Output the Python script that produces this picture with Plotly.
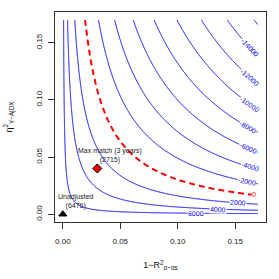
import numpy as np
import plotly.graph_objects as go

# ---- data ----
benchmark_labels = ["Unadjusted", "Max match (3 years)"]
benchmark_x = [0.0, 0.03]
benchmark_y = [0.0, 0.04]
benchmark_estimates = [6476, 2715]
benchmark_symbols = ["triangle-up", "diamond"]
benchmark_fill = ["black", "#ee0000"]

negative_levels = [-16000, -14000, -12000, -10000, -8000, -6000, -4000, -2000]
positive_levels = [2000, 4000, 6000]
threshold_level = 0

# contour surface: estimate(x, y) = center - scale * sqrt(y * x / (1 - x))
contour_center = 7350
sensitivity_scale = 126800
grid_max = 0.17

x_ticks = [0.00, 0.05, 0.10, 0.15]
y_ticks = [0.00, 0.05, 0.10, 0.15]

# where along x each contour label sits (style)
label_x_pos = {-14000: 0.1627, -12000: 0.1627, -10000: 0.1627, -8000: 0.1615,
               -6000: 0.1615, -4000: 0.1625, -2000: 0.160, 0: 0.1665,
               2000: 0.1525, 4000: 0.135, 6000: 0.1163}

# ---- build ----
pad = 0.04 * grid_max
x_range = [-pad, grid_max + pad]
y_range = [-pad, grid_max + pad]
W, H = 279, 279
ml, mr, mt, mb = 55, 13, 12, 57
pw, ph = W - ml - mr, H - mt - mb
xpx = pw / (x_range[1] - x_range[0])
ypx = ph / (y_range[1] - y_range[0])

xs = np.linspace(0, grid_max, 401)
ys = np.linspace(0, grid_max, 401)
X, Y = np.meshgrid(xs, ys)
Z = contour_center - sensitivity_scale * np.sqrt(Y * X / (1 - X))

fig = go.Figure()
blue_scale = [[0, "blue"], [1, "blue"]]
for lv in (negative_levels, positive_levels):
    fig.add_trace(go.Contour(
        x=xs, y=ys, z=Z,
        contours=dict(coloring="lines", start=min(lv), end=max(lv), size=2000,
                      showlabels=False),
        colorscale=blue_scale, showscale=False, line=dict(width=1),
        hoverinfo="skip"))
fig.add_trace(go.Contour(
    x=xs, y=ys, z=Z,
    contours=dict(coloring="none", start=threshold_level, end=threshold_level, size=1,
                  showlabels=False),
    line=dict(color="red", width=2, dash="6px,4px"), showscale=False,
    hoverinfo="skip"))

# contour labels (positions computed from the surface)
for lev, lx in label_x_pos.items():
    k2 = ((contour_center - lev) / sensitivity_scale) ** 2
    ly = k2 * (1 - lx) / lx
    if ly > grid_max:
        continue
    slope = -k2 / lx ** 2
    ang = float(np.degrees(np.arctan(-slope * ypx / xpx)))
    col = "red" if lev == threshold_level else "blue"
    fig.add_annotation(x=lx, y=ly, text=str(lev), showarrow=False,
                       textangle=ang, bgcolor="white", borderpad=0,
                       font=dict(size=7, color=col, family="Liberation Sans, Arial"))

# benchmark points
for i in range(len(benchmark_labels)):
    fig.add_trace(go.Scatter(
        x=[benchmark_x[i]], y=[benchmark_y[i]], mode="markers",
        marker=dict(symbol=benchmark_symbols[i], size=7, color=benchmark_fill[i],
                    line=dict(color="black", width=1)),
        showlegend=False, hoverinfo="skip"))
    bump = grid_max / 15
    fig.add_annotation(x=benchmark_x[i] + bump, y=benchmark_y[i] + bump,
                       text=f"{benchmark_labels[i]}<br>({benchmark_estimates[i]})",
                       showarrow=False,
                       font=dict(size=7, color="#222", family="Liberation Sans, Arial"))

axis_common = dict(showgrid=False, zeroline=False, showline=True, mirror=True,
                   linecolor="#333", linewidth=1, ticks="outside", ticklen=6,
                   tickwidth=1, tickcolor="#333", automargin=False,
                   tickfont=dict(size=8, color="#222", family="Liberation Sans, Arial"))

fig.update_layout(
    width=W, height=H, margin=dict(l=ml, r=mr, t=mt, b=mb),
    paper_bgcolor="white", plot_bgcolor="white", showlegend=False,
    xaxis=dict(range=x_range, tickvals=x_ticks,
               ticktext=[f"{v:.2f}" for v in x_ticks],
               ticklabelstandoff=5,
               title=dict(text="1\u2212R<sup>2</sup><sub>\u03b1~\u03b1s</sub>", standoff=17,
                          font=dict(size=9, color="#111", family="Liberation Sans, Arial")),
               **axis_common),
    yaxis=dict(range=y_range, tickvals=y_ticks,
               ticktext=[f"{v:.2f}" for v in y_ticks], tickangle=-90,
               ticklabelstandoff=3,
               title=dict(text="\u03b7<sup>2</sup><sub>Y~A|DX</sub>", standoff=20,
                          font=dict(size=9, color="#111", family="Liberation Sans, Arial")),
               **axis_common),
)

fig.write_html("out.html", config={"displayModeBar": False},
               post_script="document.body.style.margin='0px';document.body.style.padding='0px';")
